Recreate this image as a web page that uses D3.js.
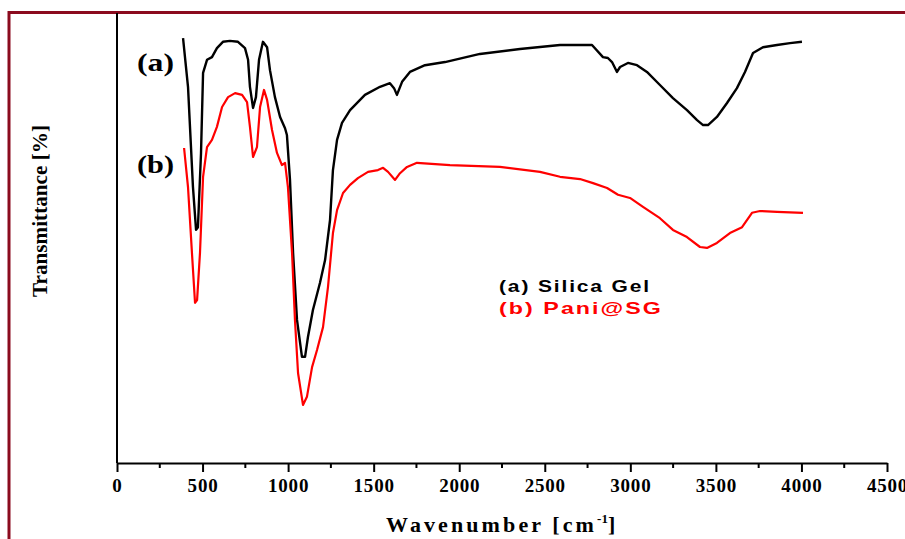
<!DOCTYPE html>
<html>
<head>
<meta charset="utf-8">
<script src="https://cdn.jsdelivr.net/npm/d3@7"></script>
<style>
html,body{margin:0;padding:0;background:#fff;}
svg{display:block;}
</style>
</head>
<body>
<svg id="chart" width="905" height="539"></svg>
<script>
// Wavenumber (cm^-1) and transmittance (arbitrary %)
const silicaWn = [386,415,444,462,473,491,503,526,555,584,619,660,707,748,766,777,795,812,830,853,877,894,923,953,982,993,1011,1029,1052,1081,1099,1116,1145,1186,1216,1245,1262,1286,1315,1362,1449,1537,1595,1619,1636,1666,1712,1800,1917,2121,2355,2589,2776,2840,2869,2893,2922,2940,2986,3039,3097,3173,3249,3331,3390,3425,3454,3506,3565,3623,3670,3717,3775,3857,3933,4003];
const silicaT  = [94.4,83.6,61.3,51.8,52.4,68.9,86.7,89.6,90.2,92.2,93.6,93.8,93.6,92.2,89.6,83.6,78.9,81.3,89.6,93.6,92.4,87.3,81.3,76.9,74.4,72.9,62.9,46.7,31.8,23.6,23.6,28.0,34.0,40.0,45.1,54.0,65.1,71.8,75.6,78.4,81.8,83.6,84.4,83.3,81.8,84.7,86.9,88.4,89.1,90.9,92.0,92.9,92.9,90.2,90.0,89.1,86.9,88.0,88.9,88.4,86.9,84.0,81.1,78.4,76.2,75.1,75.1,76.9,80.0,83.3,86.9,91.1,92.4,92.9,93.3,93.6];

const paniWn = [392,415,438,456,468,485,503,526,555,584,614,649,690,731,760,777,795,818,836,859,877,906,935,964,982,999,1023,1040,1058,1087,1110,1140,1169,1204,1233,1262,1286,1321,1362,1408,1467,1525,1555,1584,1625,1654,1695,1753,1946,2238,2472,2589,2706,2782,2864,2928,2998,3074,3173,3249,3331,3407,3448,3506,3582,3653,3711,3758,3857,4009];
const paniT  = [70.0,61.3,46.7,35.6,36.2,46.7,63.6,70.2,71.8,74.7,79.1,81.3,82.2,81.8,80.2,74.7,68.0,70.2,79.1,82.9,80.7,74.0,68.9,66.2,66.7,61.3,46.7,31.8,20.0,12.9,14.7,21.3,25.1,30.2,39.1,51.1,56.2,60.0,61.8,63.3,64.7,65.1,65.6,64.7,62.9,64.4,65.8,66.7,66.2,65.8,64.7,63.6,63.1,62.2,61.1,59.6,58.9,56.9,54.4,51.8,50.2,48.0,47.8,48.9,51.1,52.4,55.6,56.0,55.8,55.6];

const xTicks = [0,500,1000,1500,2000,2500,3000,3500,4000,4500];
const xMinorTicks = [250,750,1250,1750,2250,2750,3250,3750,4250];
const seriesNames = ["(a) Silica Gel","(b) Pani@SG"];
const curveTags = ["(a)","(b)"];

const svg = d3.select("#chart");
const x = d3.scaleLinear().domain([0,4500]).range([117,887]);
const y = d3.scaleLinear().domain([0,100]).range([463,13]);

// frame
svg.append("rect").attr("x",9).attr("y",12.5).attr("width",960).attr("height",600)
  .attr("fill","none").attr("stroke","#8b0b1e").attr("stroke-width",3);

// y axis line (no ticks)
svg.append("line").attr("x1",117).attr("x2",117).attr("y1",y(100)).attr("y2",y(0))
  .attr("stroke","#000").attr("stroke-width",2);

const serif = "'Liberation Serif','Times New Roman',serif";
const sans = "'Liberation Sans',Arial,sans-serif";

// x axis
const gx = svg.append("g").attr("transform",`translate(0,${y(0)})`);
gx.call(d3.axisBottom(x).tickValues(xTicks).tickSize(9).tickSizeOuter(0).tickFormat(d3.format("d")));
gx.select(".domain").attr("stroke","#000").attr("stroke-width",2);
gx.selectAll(".tick line").attr("stroke","#000").attr("stroke-width",2);
gx.selectAll(".tick text").attr("fill","#000")
  .style("font-family",serif)
  .style("font-weight","bold").style("font-size","19px")
  .style("letter-spacing","0.8px")
  .attr("y",16).attr("dy","0.71em");
gx.selectAll(".minor").data(xMinorTicks).enter().append("line")
  .attr("x1",d=>x(d)).attr("x2",d=>x(d)).attr("y1",0).attr("y2",5)
  .attr("stroke","#000").attr("stroke-width",2);

// lines
const line = (wn,t)=>d3.line().x((d,i)=>x(wn[i])).y((d,i)=>y(t[i]))(wn);
svg.append("path").attr("d",line(silicaWn,silicaT)).attr("fill","none")
  .attr("stroke","#000").attr("stroke-width",2.4).attr("stroke-linejoin","round");
svg.append("path").attr("d",line(paniWn,paniT)).attr("fill","none")
  .attr("stroke","#ff0000").attr("stroke-width",2.2).attr("stroke-linejoin","round");

// curve tags
svg.append("text").attr("x",137).attr("y",71).text(curveTags[0])
  .style("font-family",serif).style("font-weight","bold").style("font-size","25px")
  .attr("textLength",37).attr("lengthAdjust","spacingAndGlyphs");
svg.append("text").attr("x",137).attr("y",173).text(curveTags[1])
  .style("font-family",serif).style("font-weight","bold").style("font-size","25px")
  .attr("textLength",37).attr("lengthAdjust","spacingAndGlyphs");

// legend
svg.append("text").attr("x",499).attr("y",292).text(seriesNames[0]).attr("fill","#000")
  .style("font-family",sans).style("font-weight","bold").style("font-size","17px")
  .style("letter-spacing","1.5px")
  .attr("textLength",152).attr("lengthAdjust","spacingAndGlyphs");
svg.append("text").attr("x",499).attr("y",314).text(seriesNames[1]).attr("fill","#ff0000")
  .style("font-family",sans).style("font-weight","bold").style("font-size","17px")
  .style("letter-spacing","1.5px")
  .attr("textLength",164).attr("lengthAdjust","spacingAndGlyphs");

// axis titles
const xt = svg.append("text").attr("x",386).attr("y",532)
  .style("font-family",serif).style("font-weight","bold").style("font-size","22px")
  .style("letter-spacing","3.1px");
xt.append("tspan").text("Wavenumber [cm");
xt.append("tspan").attr("dy",-9).style("font-size","13px").style("letter-spacing","0px").text("-1");
xt.append("tspan").attr("dy",9).text("]");

svg.append("text").attr("transform","translate(47,211) rotate(-90)")
  .attr("text-anchor","middle").text("Transmittance [%]")
  .style("font-family",serif).style("font-weight","bold").style("font-size","20px")
  .attr("textLength",172).attr("lengthAdjust","spacingAndGlyphs");
</script>
</body>
</html>
